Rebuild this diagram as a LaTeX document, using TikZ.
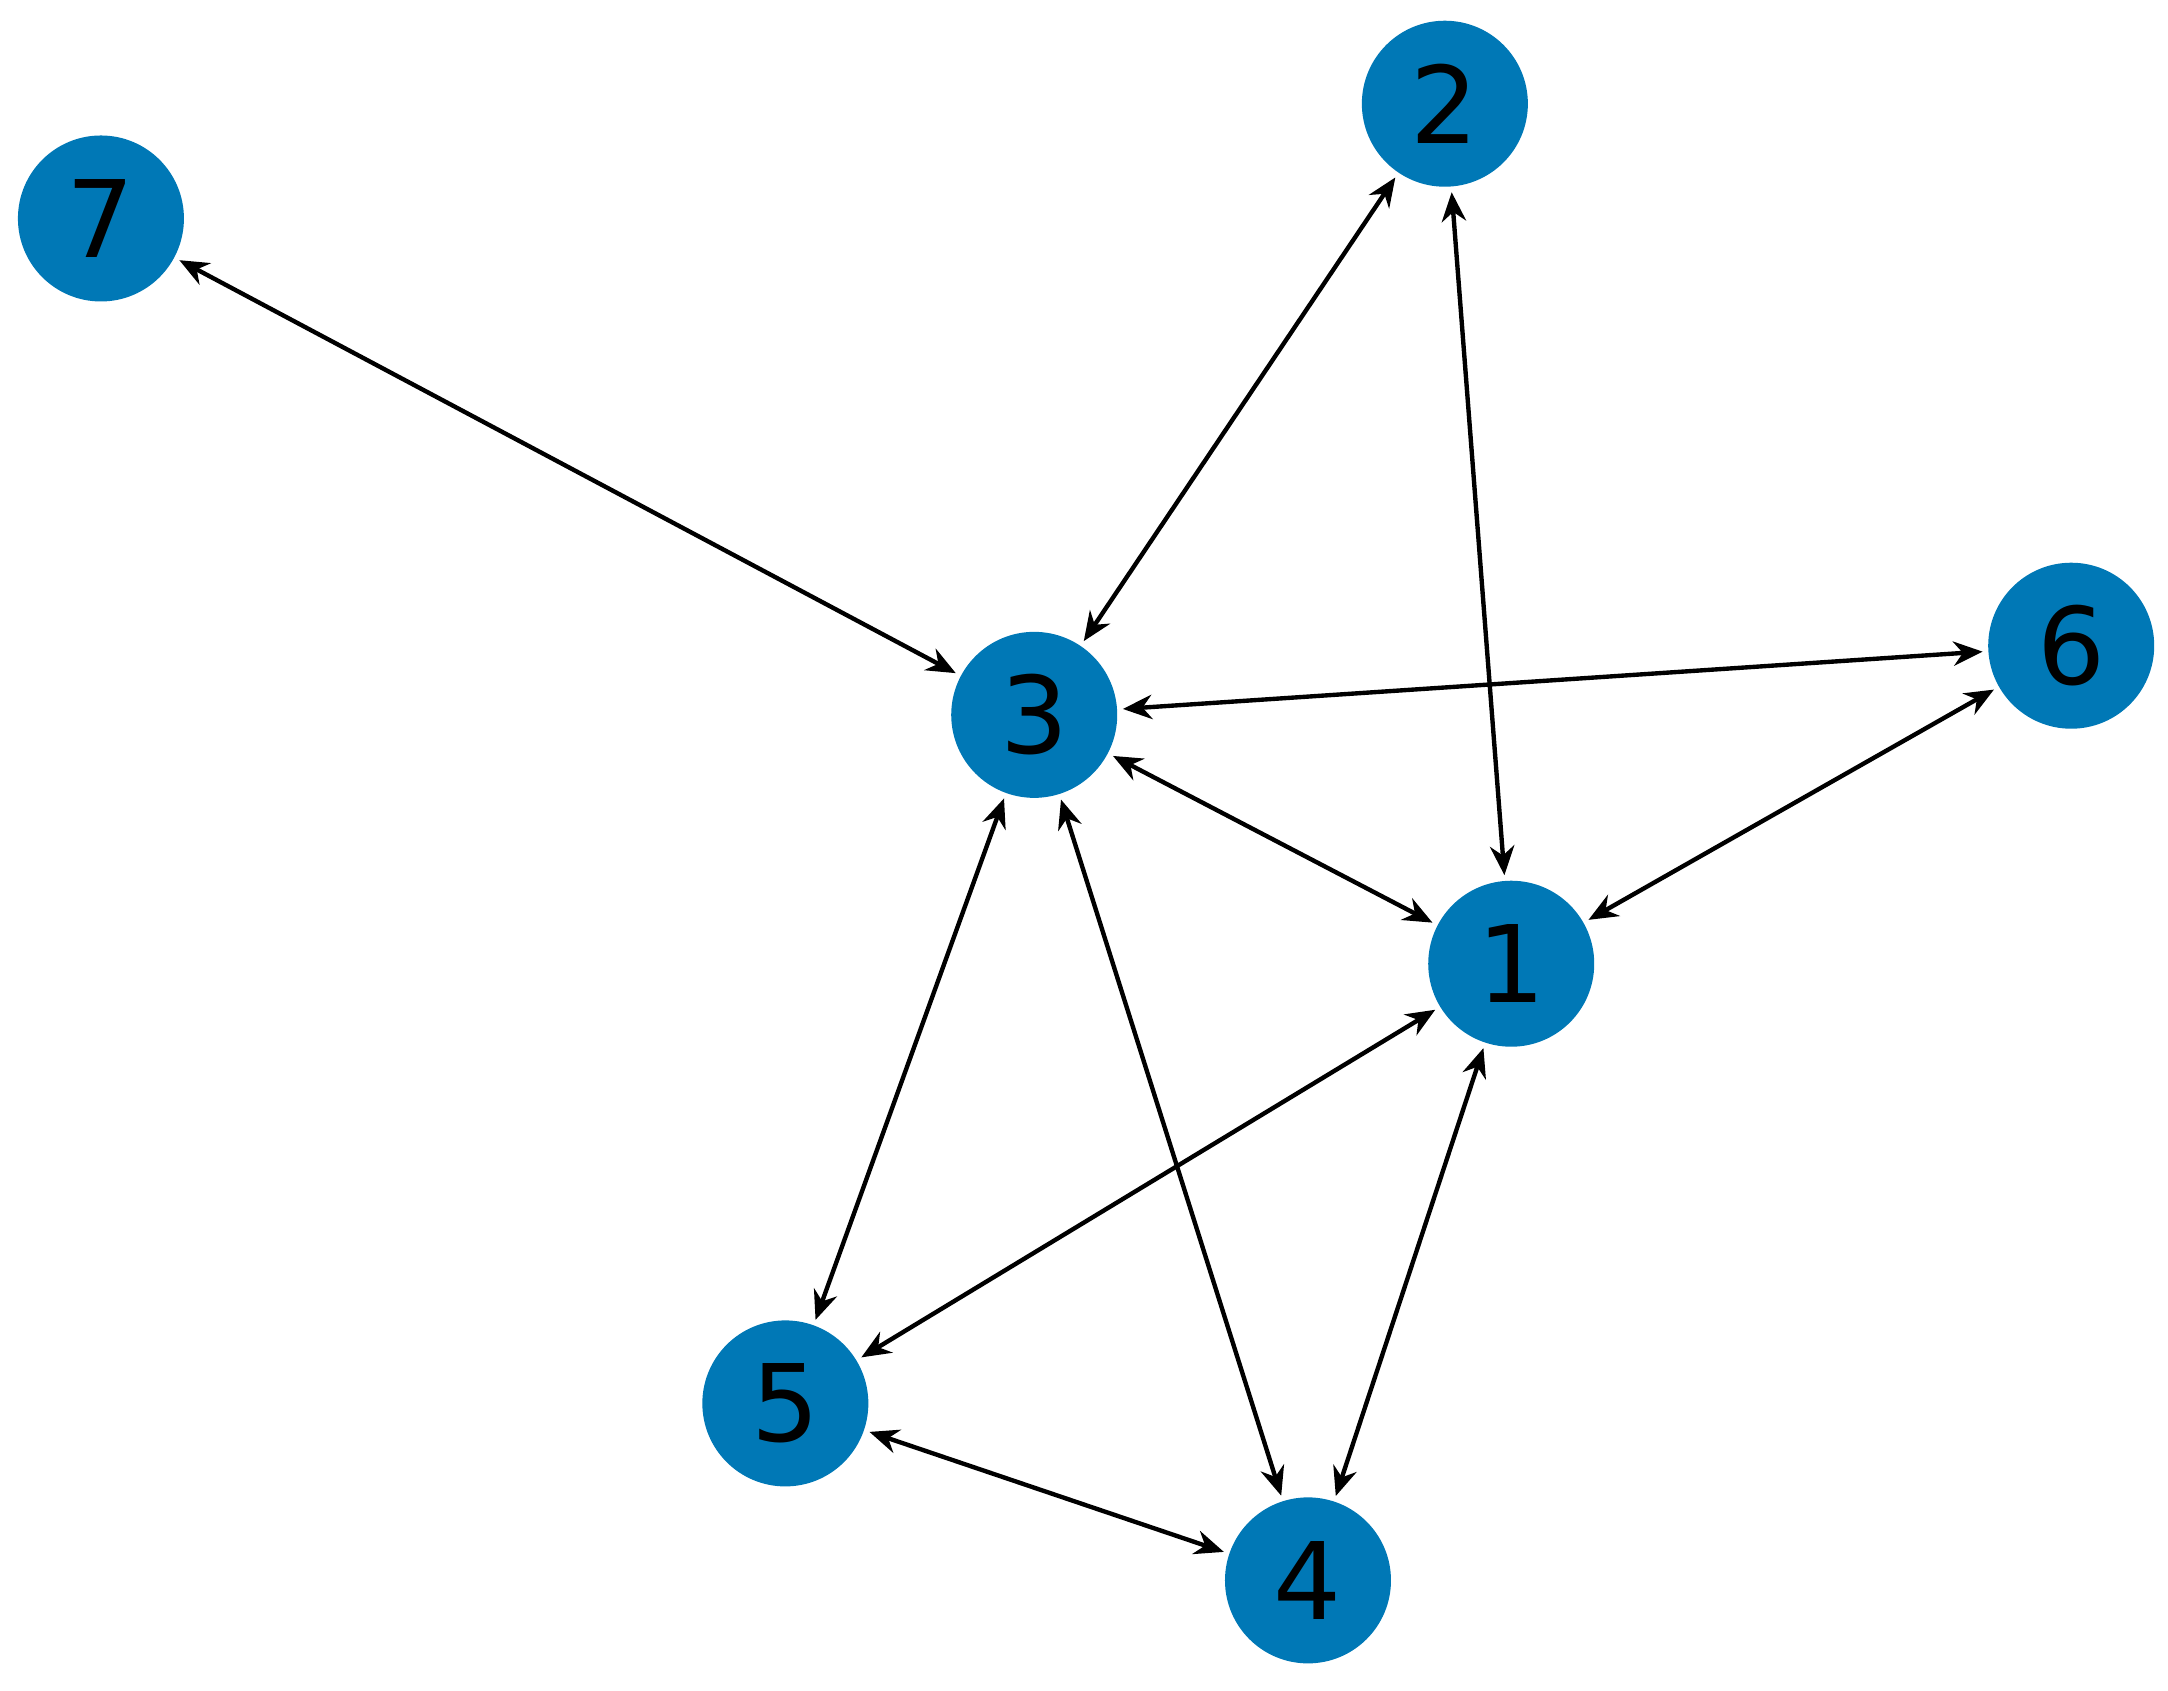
\documentclass[tikz,border=0pt]{standalone}
\usepackage{fontspec}
\setmainfont{DejaVu Sans}
\usetikzlibrary{arrows.meta}
\definecolor{nb}{RGB}{0,120,182}
\begin{document}
\begin{tikzpicture}[x=0.01cm,y=-0.01cm,
  vtx/.style={circle,fill=nb,minimum size=1.2cm,inner sep=0pt,font=\fontsize{22}{22}\selectfont},
  ed/.style={line width=0.9pt,{Stealth[length=6pt,width=5pt]}-{Stealth[length=6pt,width=5pt]},shorten <=1pt,shorten >=1pt}]
\useasboundingbox (0,0) rectangle (1568,1223);
\node[vtx] (n7) at (73,158) {7};
\node[vtx] (n2) at (1045,75) {2};
\node[vtx] (n3) at (748,517) {3};
\node[vtx] (n6) at (1498,467) {6};
\node[vtx] (n1) at (1093,697) {1};
\node[vtx] (n5) at (568,1015) {5};
\node[vtx] (n4) at (946,1143) {4};
\foreach \a/\b in {n7/n3,n2/n3,n2/n1,n3/n6,n3/n1,n6/n1,n3/n5,n3/n4,n1/n5,n1/n4,n5/n4}
  \draw[ed] (\a) -- (\b);
\end{tikzpicture}
\end{document}
